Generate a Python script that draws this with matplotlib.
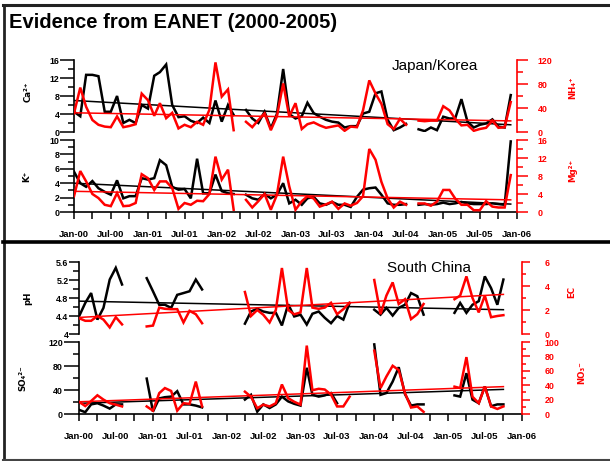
import numpy as np
import pandas as pd
import matplotlib
matplotlib.use("Agg")
import matplotlib.pyplot as plt
from matplotlib.lines import Line2D
from matplotlib.ticker import MultipleLocator, FormatStrFormatter
from matplotlib.font_manager import FontProperties
from datetime import datetime

nan = np.nan
W, H = 610, 461

# ---------------- data (monthly, Jan-2000 .. Dec-2005) ----------------
months = pd.date_range("2000-01-01", periods=72, freq="MS")

ca = [4.5, 3.5, 12.7, 12.7, 12.4, 4.5, 4.5, 8.0, 2.0, 2.7,
      2.0, 6.0, 5.2, 12.5, 13.3, 15.0, 6.0, 3.3, 3.5, 2.5,
      2.0, 3.2, 2.0, 7.0, 2.3, 6.0, 3.8, nan, 4.9, 3.0,
      2.0, 4.5, 0.8, 4.0, 14.0, 4.0, 3.0, 3.5, 6.5, 4.2,
      3.4, 2.7, 2.3, 2.1, 1.0, 1.3, 1.3, 4.1, 4.5, 8.6,
      9.0, 2.7, 0.4, 1.0, 1.8, nan, 0.6, 0.2, 1.0, 0.4,
      3.4, 3.0, 3.0, 7.3, 2.3, 1.0, 1.6, 1.9, 2.8, 1.2,
      1.0, 8.2]
nh4 = [31, 74, 42, 20, 12, 9, 8, 26, 8, 10,
       13, 64, 53, 27, 48, 23, 32, 6, 12, 8,
       17, 12, 37, 116, 59, 71, 3, nan, 17, 8,
       20, 31, 3, 26, 81, 26, 48, 5, 13, 16,
       11, 7, 9, 11, 2, 9, 8, 36, 86, 64,
       47, 13, 5, 22, 12, nan, 19, 18, 19, 19,
       43, 36, 22, 11, 12, 2, 5, 7, 19, 7,
       8, 50]
k = [5.6, 4.0, 3.5, 4.3, 3.3, 2.8, 2.4, 4.4, 1.9, 2.2,
     2.2, 4.7, 4.5, 4.7, 7.2, 6.5, 3.5, 3.1, 3.2, 1.9,
     7.4, 2.6, 2.6, 5.2, 2.9, 2.6, 2.5, nan, 2.4, 1.9,
     1.7, 2.5, 1.9, 2.4, 4.0, 1.2, 1.7, 1.0, 1.9, 2.1,
     1.2, 1.0, 1.4, 1.0, 1.0, 0.7, 2.1, 3.1, 3.3, 3.4,
     2.4, 1.2, 1.0, 1.0, 1.1, nan, 1.0, 1.1, 1.0, 1.1,
     1.3, 1.1, 1.2, 1.4, 1.2, 1.1, 1.1, 1.1, 1.2, 1.1,
     1.0, 9.8]
mg = [3.5, 9.1, 6.8, 4.0, 3.1, 1.6, 1.3, 4.2, 1.3, 1.4,
      2.0, 8.4, 7.5, 4.9, 6.8, 6.8, 5.3, 0.7, 2.0, 1.6,
      2.5, 2.4, 4.0, 12.3, 7.2, 9.4, 0.5, nan, 2.7, 1.0,
      2.4, 4.0, 0.5, 3.8, 12.3, 5.7, 0.5, 2.4, 3.5, 3.0,
      1.2, 1.7, 2.3, 0.7, 1.9, 1.4, 2.0, 3.5, 14.0, 11.6,
      6.7, 3.0, 1.0, 2.3, 1.6, nan, 1.9, 1.9, 1.4, 2.3,
      4.9, 4.9, 3.0, 1.6, 1.6, 0.4, 0.4, 2.4, 1.2, 1.0,
      1.0, 8.2]
ph = [4.39, 4.69, 4.91, 4.32, 4.58, 5.21, 5.47, 5.10, nan, nan,
      nan, 5.24, 4.95, 4.65, 4.65, 4.58, 4.87, 4.91, 4.95, 5.21,
      4.99, nan, nan, nan, nan, nan, nan, 4.23, 4.50, 4.56,
      4.50, 4.47, 4.47, 4.19, 4.66, 4.39, 4.43, 4.21, 4.45, 4.50,
      4.36, 4.24, 4.40, 4.32, 4.69, nan, nan, nan, 4.54, 4.43,
      4.58, 4.41, 4.58, 4.65, 4.91, 4.84, 4.43, nan, nan, nan,
      nan, 4.47, 4.69, 4.47, 4.65, 4.73, 5.28, 5.02, 4.65, 5.21,
      nan, nan]
ec = [1.32, 1.1, 1.1, 1.5, 1.2, 0.55, 1.4, 0.8, nan, nan,
      nan, 0.63, 0.7, 2.2, 2.1, 2.07, 2.07, 0.96, 1.93, 1.65,
      0.9, nan, nan, nan, nan, nan, nan, 3.5, 1.5, 2.0,
      1.6, 0.96, 2.0, 5.5, 2.0, 1.64, 1.8, 5.5, 2.2, 2.1,
      2.2, 2.6, 1.65, 2.07, 2.6, nan, nan, nan, 4.5, 1.65,
      3.2, 4.3, 2.5, 2.9, 1.24, 1.65, 2.5, nan, nan, nan,
      nan, 2.9, 3.2, 4.8, 3.0, 1.8, 3.2, 1.4, 1.5, 1.57,
      nan, nan]
so4 = [7, 3, 16, 18, 14, 9, 16, 16, nan, nan,
       nan, 59, 4, 26, 28, 29, 38, 16, 16, 14,
       11, nan, nan, nan, nan, nan, nan, 24, 32, 4,
       16, 10, 16, 29, 21, 17, 14, 77, 32, 29,
       31, 35, 18, nan, nan, nan, nan, nan, 116, 32,
       35, 54, 78, 33, 14, 16, 16, nan, nan, nan,
       nan, 31, 29, 68, 24, 18, 46, 13, 16, 16,
       nan, nan]
no3 = [17, 11, 18, 26, 20, 15, 13, 10.5, nan, nan,
       nan, 10.5, 4.6, 29, 36, 32, 4.6, 15, 14, 45,
       10.5, nan, nan, nan, nan, nan, nan, 31, 24, 8,
       13, 10.5, 15, 41, 22, 17, 13, 95, 33, 35,
       34, 27, 10.5, 10.5, 24, nan, nan, nan, 88, 36,
       52, 67, 61, 29, 9, 10.5, 3, nan, nan, nan,
       nan, 38, 36, 79, 24, 15, 38, 10.5, 7, 10.5,
       nan, nan]

# linear trend lines (start, end values)
ca_trend = [7.0, 1.6]
nh4_trend = [32, 18.5]
k_trend = [4.0, 1.1]
mg_trend = [4.6, 2.7]
ph_trend = [4.73, 4.54]
ec_trend = [1.38, 3.3]
so4_trend = [17.8, 41]
no3_trend = [17, 38]
trend_top = [months[0], months[71]]
trend_bottom = [months[0], months[69]]

# ---------------- figure ----------------
plt.rcParams['font.family'] = ['Liberation Sans', 'DejaVu Sans']
fig = plt.figure(figsize=(W / 100, H / 100), dpi=100)
fig.patch.set_facecolor('white')


def add_ax(x0, y0, x1, y1):
    return fig.add_axes([x0 / W, 1 - y1 / H, (x1 - x0) / W, (y1 - y0) / H])


panels = [
    dict(box=(74, 60, 517, 132), L=ca, R=nh4, Lt=ca_trend, Rt=nh4_trend, tx=trend_top,
         Llim=(0, 16), Rlim=(0, 120), Lmaj=4, Lmin=2, Rmaj=40, Rmin=20, xaxis=False,
         Ltick=10, Rtick=8, Rpad=7),
    dict(box=(74, 140, 517, 212), L=k, R=mg, Lt=k_trend, Rt=mg_trend, tx=trend_top,
         Llim=(0, 10), Rlim=(0, 16), Lmaj=2, Lmin=1, Rmaj=4, Rmin=2, xaxis=True,
         Ltick=10, Rtick=8, Rpad=7),
    dict(box=(79, 262, 522, 334), L=ph, R=ec, Lt=ph_trend, Rt=ec_trend, tx=trend_bottom,
         Llim=(4, 5.6), Rlim=(0, 6), Lmaj=0.4, Lmin=0.2, Rmaj=2, Rmin=1, xaxis=False,
         Ltick=7, Rtick=5.5, Rpad=11),
    dict(box=(79, 342, 522, 414), L=so4, R=no3, Lt=so4_trend, Rt=no3_trend, tx=trend_bottom,
         Llim=(0, 120), Rlim=(0, 100), Lmaj=40, Lmin=20, Rmaj=20, Rmin=10, xaxis=True,
         Ltick=11, Rtick=5.5, Rpad=11),
]

xticks = pd.date_range("2000-01-01", "2006-01-01", freq="3MS")
xticklabels = [d.strftime("%b-%y") if d.month in (1, 7) else "" for d in xticks]

yfont = FontProperties(family='Liberation Sans', weight='bold', size=6.4)
xfont = FontProperties(family='Liberation Sans', weight='bold', size=6.8)

for p in panels:
    ax = add_ax(*p['box'])
    ax.patch.set_alpha(0)
    ax.plot(months, p['L'], color='black', lw=1.8, solid_joinstyle='miter')
    ax.plot(p['tx'], p['Lt'], color='black', lw=1.1)
    ax.set_xlim(datetime(2000, 1, 1), datetime(2006, 1, 1))
    ax.set_ylim(*p['Llim'])
    ax.yaxis.set_major_locator(MultipleLocator(p['Lmaj']))
    ax.yaxis.set_minor_locator(MultipleLocator(p['Lmin']))
    ax.yaxis.set_major_formatter(FormatStrFormatter('%g'))
    for s in ('top', 'right'):
        ax.spines[s].set_visible(False)
    ax.spines['left'].set_linewidth(1.2)
    ax.tick_params(axis='y', which='major', direction='out', length=p['Ltick'], width=1.1, pad=0.5)
    ax.tick_params(axis='y', which='minor', direction='out', length=4, width=1.1)
    for lab in ax.get_yticklabels():
        lab.set_fontproperties(yfont)
    if p['xaxis']:
        ax.spines['bottom'].set_linewidth(1.2)
        ax.set_xticks(xticks)
        ax.set_xticklabels(xticklabels)
        ax.tick_params(axis='x', which='major', direction='out', length=5, width=1.1, pad=8)
        ax.tick_params(axis='x', which='minor', bottom=False)
        for lab in ax.get_xticklabels():
            lab.set_fontproperties(xfont)
    else:
        ax.spines['bottom'].set_visible(False)
        ax.set_xticks([])
        ax.tick_params(axis='x', which='both', bottom=False, labelbottom=False)

    tw = ax.twinx()
    tw.plot(months, p['R'], color='red', lw=1.8, solid_joinstyle='miter')
    tw.plot(p['tx'], p['Rt'], color='red', lw=1.1)
    tw.set_xlim(datetime(2000, 1, 1), datetime(2006, 1, 1))
    tw.set_ylim(*p['Rlim'])
    tw.yaxis.set_major_locator(MultipleLocator(p['Rmaj']))
    tw.yaxis.set_minor_locator(MultipleLocator(p['Rmin']))
    tw.yaxis.set_major_formatter(FormatStrFormatter('%g'))
    for s in ('top', 'left', 'bottom'):
        tw.spines[s].set_visible(False)
    tw.spines['right'].set_color('red')
    tw.spines['right'].set_linewidth(1.2)
    tw.tick_params(axis='y', which='major', direction='out', length=p['Rtick'], width=1.1,
                   colors='red', pad=p['Rpad'])
    tw.tick_params(axis='y', which='minor', direction='out', length=p['Rtick'] * 0.55, width=1.1,
                   colors='red')
    for lab in tw.get_yticklabels():
        lab.set_fontproperties(yfont)
    tw.tick_params(axis='x', which='both', bottom=False, labelbottom=False)


def ftext(x, y, s, **kw):
    fig.text(x / W, 1 - y / H, s, **kw)


lab_kw = dict(family=['DejaVu Sans'], weight='bold', size=6.2, rotation=90,
              ha='center', va='center')
ftext(28, 92, 'Ca²⁺', color='black', **lab_kw)
ftext(27, 176, 'K⁺', color='black', **lab_kw)
ftext(28, 298, 'pH', color='black', **lab_kw)
ftext(23, 378, 'SO₄²⁻', color='black', **lab_kw)
ftext(573, 88, 'NH₄⁺', color='red', **lab_kw)
ftext(573, 170, 'Mg²⁺', color='red', **lab_kw)
ftext(572, 292, 'EC', color='red', **lab_kw)
ftext(582, 373, 'NO₃⁻', color='red', **lab_kw)

ftext(9, 28, 'Evidence from EANET (2000-2005)', family='Liberation Sans', weight='bold',
      size=14.5, ha='left', va='baseline')
ftext(435, 66, 'Japan/Korea', family='Liberation Sans', size=11, ha='center', va='center')
ftext(429, 268, 'South China', family='Liberation Sans', size=11, ha='center', va='center')


def fline(x0, y0, x1, y1, lw, color):
    fig.add_artist(Line2D([x0 / W, x1 / W], [1 - y0 / H, 1 - y1 / H], lw=lw, color=color,
                          transform=fig.transFigure))


fline(3, 5, W, 5, 2.2, '#222222')
fline(4, 5, 4, H, 2.0, '#222222')
fline(3, 242, W, 242, 2.6, 'black')
fline(3, 460, W, 460, 1.5, '#444444')

fig.savefig('out.png', dpi=100)
